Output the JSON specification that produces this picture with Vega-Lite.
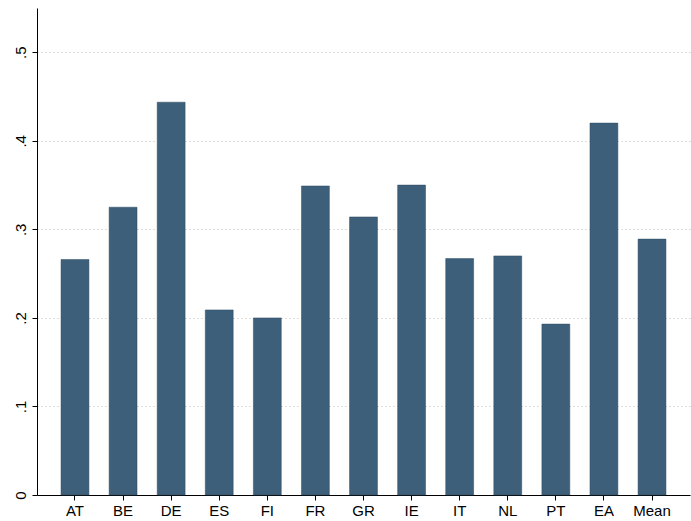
{
"$schema":"https://vega.github.io/schema/vega-lite/v6.json",
"width":653,"height":487,
"autosize":"none",
"padding":{"left":37,"top":8,"right":1,"bottom":26},
"background":"white",
"config":{"view":{"stroke":null},"font":"Liberation Sans"},
"data":{"values":[
{"c":"AT","v":0.266},{"c":"BE","v":0.325},{"c":"DE","v":0.4436},{"c":"ES","v":0.209},{"c":"FI","v":0.200},{"c":"FR","v":0.349},{"c":"GR","v":0.314},{"c":"IE","v":0.350},{"c":"IT","v":0.267},{"c":"NL","v":0.270},{"c":"PT","v":0.193},{"c":"EA","v":0.420},{"c":"Mean","v":0.289}]},
"mark":{"type":"bar","color":"#3e5f7a","stroke":"#2c4a63","strokeWidth":0.5},
"encoding":{
"x":{"field":"c","type":"nominal","sort":null,"title":null,"scale":{"paddingInner":0.42,"paddingOuter":0.5},
"axis":{"labelAngle":0,"labelFontSize":15,"labelColor":"black","domainColor":"black","tickColor":"black","tickSize":5,"labelPadding":3}},
"y":{"field":"v","type":"quantitative","title":null,"scale":{"domain":[0,0.55],"nice":false},
"axis":{"values":[0,0.1,0.2,0.3,0.4,0.5],"labelExpr":"datum.value==0?'0':replace(format(datum.value,'.1f'),'0.','.')","labelAngle":-90,"labelAlign":"center","labelBaseline":"bottom","labelFontSize":15,"labelColor":"black","domainColor":"black","tickColor":"black","tickSize":5,"labelPadding":4,"grid":true,"gridColor":"#bbbbbb","gridDash":[1,3],"gridWidth":1}}
}
}
